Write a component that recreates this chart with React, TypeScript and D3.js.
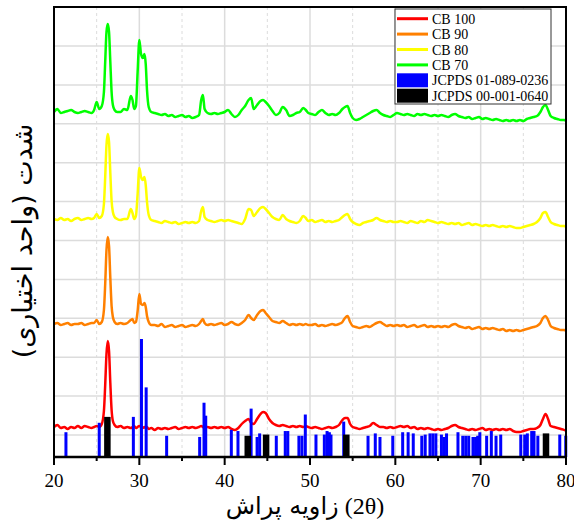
import React from 'react';
import * as d3 from 'd3';

// 2θ sampling grid shared by all four patterns (degrees)
const twoTheta = [
  20.0, 20.4, 20.8, 21.2, 21.6, 22.0, 22.4, 22.8, 23.2, 23.6, 24.0, 24.4, 24.7, 25.0, 25.3,
  25.6, 25.85, 26.0, 26.15, 26.3, 26.45, 26.6, 26.75, 26.9, 27.1, 27.4,
  27.8, 28.2, 28.6, 29.0,
  29.2, 29.4, 29.6, 29.8, 30.0, 30.2, 30.4, 30.6, 30.75, 30.9, 31.1, 31.4,
  31.8, 32.2, 32.6, 33.0, 33.4, 33.8, 34.2, 34.6, 35.0, 35.4, 35.8, 36.2, 36.6, 37.0,
  37.25, 37.45, 37.65,
  38.0, 38.4, 38.8, 39.2, 39.6, 40.0, 40.4, 40.8, 41.2, 41.6, 42.0, 42.4,
  42.8, 43.1, 43.4, 43.8, 44.2, 44.5, 44.8, 45.2, 45.6, 46.0, 46.4, 46.8, 47.2, 47.6, 48.0, 48.4, 48.8, 49.2,
  49.5, 49.8,
  50.2, 50.6, 51.0, 51.4, 51.8, 52.2, 52.6, 53.0, 53.4, 53.8,
  54.1, 54.4, 54.7, 55.0,
  55.4, 55.8, 56.2, 56.6, 57.0, 57.4, 57.8, 58.2, 58.6, 59.0, 59.4, 59.8,
  60.2, 60.6, 61.0, 61.4, 61.8, 62.2, 62.6, 63.0, 63.4, 63.8,
  64.2, 64.6, 65.0, 65.4, 65.8, 66.2, 66.6, 67.0, 67.4, 67.8,
  68.2, 68.6, 69.0, 69.4, 69.8, 70.2, 70.6, 71.0, 71.4, 71.8,
  72.2, 72.6, 73.0, 73.4, 73.8, 74.2, 74.6, 75.0, 75.4, 75.8,
  76.2, 76.6,
  77.0, 77.3, 77.6, 77.9, 78.2,
  78.6, 79.0, 79.4, 79.8, 80.0,
];

// raw intensities (counts), same order as twoTheta
const cb100 = [
  300, 320, 290, 300, 280, 300, 290, 310, 290, 310, 300, 290, 300, 310, 300,
  330, 460, 720, 1030, 1160, 1060, 740, 470, 360, 320, 300,
  310, 290, 300, 290,
  300, 310, 290, 300, 310, 300, 290, 300, 290, 300, 280, 290,
  270, 290, 280, 290, 280, 290, 300, 280, 290, 300, 290, 300, 290, 300,
  310, 300, 290,
  300, 290, 300, 290, 300, 290, 300, 280, 270, 290, 330, 360,
  380, 340, 330, 380, 430, 450, 440, 380, 340, 320, 310, 320, 310, 300, 310, 300, 310, 300,
  310, 300,
  290, 300, 290, 280, 290, 300, 290, 300, 320, 370,
  390, 390, 330, 300,
  290, 280, 290, 300, 310, 340, 320, 300, 300, 290, 300, 290,
  300, 310, 300, 310, 290, 300, 280, 290, 280, 290,
  280, 270, 280, 270, 280, 290, 310, 320, 300, 290,
  280, 270, 280, 270, 280, 290, 270, 280, 270, 280,
  270, 280, 270, 280, 260, 250, 250, 260, 270, 280,
  280, 290,
  320, 380, 430, 380, 310,
  300, 290, 280, 270, 260,
];

const cb90 = [
  300, 310, 290, 300, 310, 290, 300, 300, 310, 290, 300, 310, 310, 340, 300,
  320, 440, 700, 1040, 1170, 1080, 760, 480, 370, 320, 300,
  310, 300, 310, 340,
  350, 310, 320, 430, 600, 500, 490, 510, 470, 380, 320, 290,
  290, 280, 300, 270, 280, 290, 270, 280, 290, 270, 280, 290, 280, 300,
  330, 350, 310,
  290, 300, 290, 300, 310, 290, 300, 320, 300, 290, 310, 340,
  390, 360, 340, 390, 430, 440, 410, 370, 330, 320, 310, 330, 310, 290, 300, 290, 300, 290,
  300, 290,
  290, 300, 280, 290, 280, 290, 300, 290, 300, 320,
  360, 380, 320, 280,
  270, 260, 270, 280, 270, 290, 310, 320, 300, 280, 290, 280,
  290, 280, 290, 270, 280, 290, 270, 280, 290, 270,
  280, 270, 280, 270, 280, 270, 290, 300, 280, 270,
  260, 270, 250, 260, 270, 250, 260, 250, 260, 250,
  240, 250, 230, 240, 230, 240, 230, 240, 250, 260,
  270, 280,
  310, 360, 380, 340, 280,
  260, 250, 240, 240, 230,
];

const cb80 = [
  300, 290, 310, 290, 300, 280, 300, 310, 290, 300, 310, 300, 310, 350, 310,
  330, 450, 720, 1040, 1150, 1070, 760, 480, 370, 320, 300,
  290, 300, 300, 400,
  360, 300, 330, 550, 810, 720, 690, 720, 640, 470, 340, 290,
  280, 270, 260, 280, 270, 260, 270, 250, 260, 270, 260, 270, 260, 280,
  380, 420, 320,
  290, 280, 270, 280, 290, 280, 290, 280, 270, 260, 250, 300,
  400, 390, 330, 370, 410, 420, 400, 360, 320, 300, 290, 340, 300, 280, 270, 260, 280, 330,
  310, 280,
  290, 270, 280, 290, 270, 280, 270, 280, 290, 320,
  340, 350, 300, 270,
  250, 240, 260, 270, 280, 290, 310, 290, 280, 270, 280, 270,
  270, 280, 270, 260, 280, 270, 260, 280, 270, 290,
  280, 270, 260, 270, 260, 250, 260, 250, 260, 240,
  250, 260, 240, 250, 240, 230, 240, 230, 240, 230,
  220, 230, 220, 230, 220, 210, 210, 220, 230, 240,
  250, 270,
  310, 360, 370, 320, 270,
  250, 240, 230, 230, 220,
];

const cb70 = [
  300, 330, 290, 300, 310, 320, 300, 290, 300, 310, 300, 290, 320, 400, 330,
  360, 500, 800, 1100, 1180, 1100, 800, 500, 370, 320, 300,
  300, 330, 320, 460,
  420, 330, 360, 700, 1020, 880, 840, 880, 780, 520, 350, 300,
  290, 280, 270, 280, 260, 270, 250, 260, 270, 250, 260, 240, 250, 270,
  420, 470, 330,
  290, 280, 290, 280, 290, 300, 320, 280, 250, 270, 320, 360,
  420, 440, 330, 370, 410, 420, 400, 360, 310, 270, 290, 350, 320, 260, 270, 290, 300, 340,
  320, 290,
  280, 270, 300, 320, 290, 270, 280, 270, 290, 330,
  350, 360, 290, 240,
  220, 230, 250, 270, 290, 310, 320, 290, 270, 260, 250, 270,
  290, 280, 270, 280, 270, 260, 280, 270, 280, 270,
  260, 270, 260, 270, 260, 250, 270, 280, 260, 250,
  240, 250, 230, 240, 250, 230, 240, 230, 220, 230,
  220, 210, 220, 210, 220, 210, 220, 210, 230, 240,
  250, 260,
  300, 350, 370, 320, 260,
  240, 230, 220, 220, 210,
];

const seriesNames = ['CB 100', 'CB 90', 'CB 80', 'CB 70'];
const seriesColors = ['#ff0000', '#ff8000', '#ffff00', '#00ff00'];
const seriesOffsets = [0, 1030, 2080, 3150]; // vertical stacking (counts)
const seriesValues = [cb100, cb90, cb80, cb70];

// reference cards, relative intensity I/I0 (%)
const card1Name = 'JCPDS 01-089-0236';
const card1Pos = [
  21.4, 25.3, 29.3, 30.25, 30.8, 33.2, 37.07, 37.58, 37.78, 40.78, 41.56, 43.1, 43.8, 44.1,
  46.05, 47.1, 47.4, 48.7, 49.06, 49.45, 50.7, 51.68, 52.0, 52.27, 52.46, 53.95, 56.8, 57.65,
  58.2, 59.7, 60.86, 61.5, 62.1, 63.1, 63.5, 64.06, 64.4, 64.75, 65.4, 65.7, 66.0, 67.34, 67.9,
  68.25, 68.6, 69.1, 69.4, 69.65, 69.9, 70.7, 71.25, 71.8, 72.35, 74.7, 75.16, 75.47, 75.98,
  76.25, 76.7, 79.27, 79.97,
];
const card1Int = [
  21, 29, 34, 100, 59, 18, 17, 46, 35, 23, 22, 41, 17, 20,
  18, 22, 22, 18, 18, 36, 19, 19, 22, 21, 19, 30, 18, 20,
  17, 18, 21, 21, 20, 18, 19, 20, 20, 20, 19, 17, 20, 21, 18,
  18, 18, 17, 17, 18, 21, 18, 22, 18, 19, 19, 19, 20, 22,
  22, 18, 19, 18,
];
const card2Name = 'JCPDS 00-001-0640';
const card2Pos = [26.25, 42.7, 44.85, 54.25, 77.65];
const card2Int = [34, 18, 19, 19, 20];

const majorTicks = [20, 30, 40, 50, 60, 70, 80];
const minorTicks = [25, 35, 45, 55, 65, 75];

const W = 574;
const H = 526;
const L = 54, R = 566, T = 7, B = 457;

const serif = "'Liberation Serif', 'Times New Roman', 'DejaVu Serif', serif";
const persian = "'DejaVu Sans', sans-serif";

export default function App() {
  const x = d3.scaleLinear().domain([20, 80]).range([L, R]);
  const y = d3.scaleLinear().domain([0, 4500]).range([B, T]);
  const barH = d3.scaleLinear().domain([0, 100]).range([0, 118]);
  const yGrid = d3.range(220, 4500, 389);

  const curves = seriesValues.map((vals, s) => {
    const n = Math.min(vals.length, twoTheta.length);
    const pts: [number, number][] = [];
    for (let i = 0; i < n; i++) pts.push([twoTheta[i], vals[i] + seriesOffsets[s]]);
    const line = d3
      .line<[number, number]>()
      .x((d) => x(d[0]))
      .y((d) => y(d[1]))
      .curve(d3.curveMonotoneX);
    return line(pts) || '';
  });

  const legendRows = [
    ...seriesNames.map((n, i) => ({ name: n, color: seriesColors[i], kind: 'line' })),
    { name: card1Name, color: '#0000ff', kind: 'rect' },
    { name: card2Name, color: '#000000', kind: 'rect' },
  ];

  return (
    <svg
      width={W}
      height={H}
      style={{ position: 'absolute', left: 0, top: 0, background: '#fff' }}
    >
      <rect x={0} y={0} width={W} height={H} fill="#fff" />

      {/* grid */}
      {yGrid.map((v) => (
        <line key={'hg' + v} x1={L} x2={R} y1={y(v)} y2={y(v)} stroke="#dcdcdc" strokeWidth={1.5} />
      ))}
      {majorTicks.slice(1, -1).map((t) => (
        <line key={'vg' + t} x1={x(t)} x2={x(t)} y1={T} y2={B} stroke="#dcdcdc" strokeWidth={1.5} />
      ))}
      {minorTicks.map((t) => (
        <line
          key={'vm' + t}
          x1={x(t)}
          x2={x(t)}
          y1={T}
          y2={B}
          stroke="#dcdcdc"
          strokeWidth={1}
          strokeDasharray="3,3"
        />
      ))}

      {/* patterns */}
      {curves
        .map((d, i) => (
          <path
            key={'c' + i}
            d={d}
            fill="none"
            stroke={seriesColors[i]}
            strokeWidth={2.5}
            strokeLinejoin="round"
          />
        ))
        .reverse()}

      {/* reference bars */}
      {card1Pos.map((p, i) => (
        <rect
          key={'b1' + i}
          x={x(p) - 1.5}
          y={B - barH(card1Int[i])}
          width={3}
          height={barH(card1Int[i])}
          fill="#0000ff"
        />
      ))}
      {card2Pos.map((p, i) => (
        <rect
          key={'b2' + i}
          x={x(p) - 3.2}
          y={B - barH(card2Int[i])}
          width={6.5}
          height={barH(card2Int[i])}
          fill="#000000"
        />
      ))}

      {/* frame */}
      <rect x={L} y={T} width={R - L} height={B - T} fill="none" stroke="#000" strokeWidth={2} />
      <line x1={L - 1} x2={R + 1} y1={B} y2={B} stroke="#000" strokeWidth={2.5} />

      {/* x ticks */}
      {majorTicks.map((t) => (
        <g key={'t' + t}>
          <line x1={x(t)} x2={x(t)} y1={B} y2={B + 8} stroke="#000" strokeWidth={2} />
          <text
            x={x(t)}
            y={B + 30}
            textAnchor="middle"
            fontFamily={serif}
            fontSize={19}
            fill="#000"
          >
            {t}
          </text>
        </g>
      ))}
      {minorTicks.map((t) => (
        <line key={'mt' + t} x1={x(t)} x2={x(t)} y1={B} y2={B + 4} stroke="#000" strokeWidth={2} />
      ))}

      {/* axis titles */}
      <text x={(L + R) / 2 - 5} y={514} textAnchor="middle" fontSize={24} fill="#000">
        <tspan fontFamily={persian}>{'زاویه پراش'}</tspan>
        <tspan fontFamily={serif}>{'\u200E (2θ)'}</tspan>
      </text>
      <text
        transform={`translate(32, 241) rotate(-90)`}
        textAnchor="middle"
        fontFamily={persian}
        fontSize={27}
        fill="#000"
      >
        شدت (واحد اختیاری)
      </text>

      {/* legend */}
      <rect x={395} y={9} width={156} height={95} fill="#fff" stroke="#333" strokeWidth={1} />
      {legendRows.map((r, i) => {
        const cy = 18.7 + i * 15.4;
        return (
          <g key={'lg' + i}>
            {r.kind === 'line' ? (
              <line x1={397} x2={428} y1={cy} y2={cy} stroke={r.color} strokeWidth={3} />
            ) : (
              <rect x={397} y={cy - 7} width={31} height={14} fill={r.color} />
            )}
            <text x={432} y={cy + 5} fontFamily={serif} fontSize={14} fill="#000">
              {r.name}
            </text>
          </g>
        );
      })}
    </svg>
  );
}
